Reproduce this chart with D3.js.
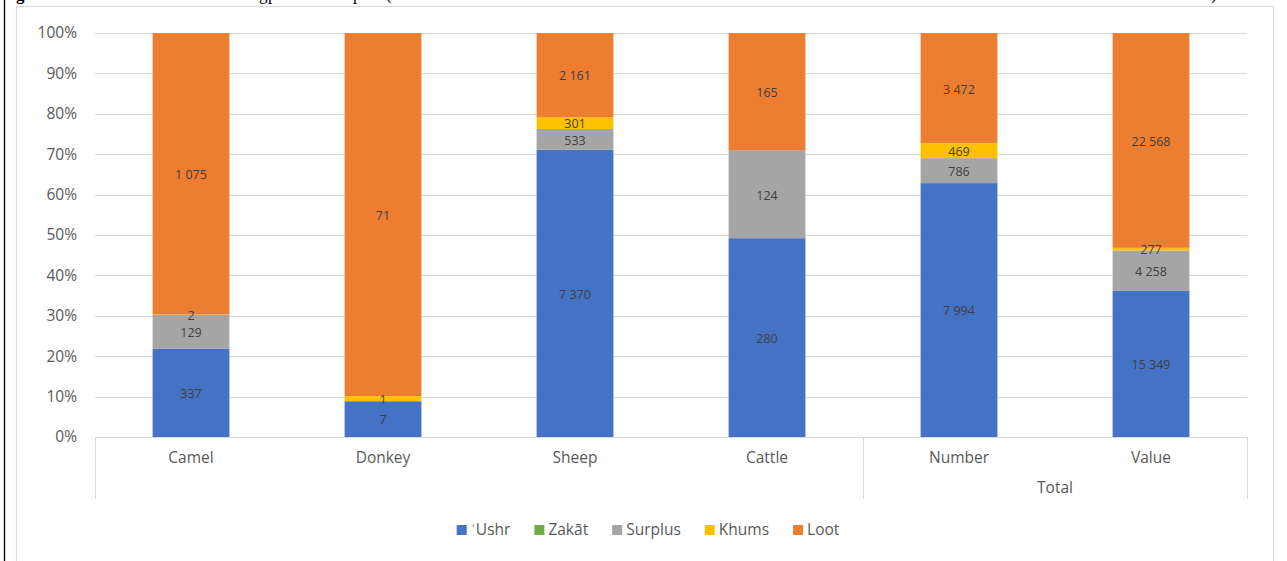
<!DOCTYPE html>
<html><head><meta charset="utf-8">
<script src="https://cdn.jsdelivr.net/npm/d3@7"></script>
<style>
html,body{margin:0;padding:0;background:#fff;}
svg{display:block;}
</style></head>
<body>
<svg id="c" width="1287" height="561"></svg>
<script>
const categories = ["Camel","Donkey","Sheep","Cattle","Number","Value"];
const groups = ["","","","","Total","Total"];
const seriesNames = ["ʿUshr","Zakāt","Surplus","Khums","Loot"];
const ushr    = [337, 7, 7370, 280, 7994, 15349];
const zakat   = [0, 0, 0, 0, 0, 0];
const surplus = [129, 0, 533, 124, 786, 4258];
const khums   = [2, 1, 301, 0, 469, 277];
const loot    = [1075, 71, 2161, 165, 3472, 22568];
const yTicks  = [0,0.1,0.2,0.3,0.4,0.5,0.6,0.7,0.8,0.9,1];
const colors  = ["#4472C4","#70AD47","#A5A5A5","#FFC000","#ED7D31"];

const seriesVals = [ushr, zakat, surplus, khums, loot];
const keys = ["s0","s1","s2","s3","s4"];
const rows = categories.map((c,i)=>{const r={cat:c}; keys.forEach((k,j)=>r[k]=seriesVals[j][i]); return r;});

const svg = d3.select("#c");
const FONT = "'Open Sans', sans-serif";

// page frame
svg.append("line").attr("x1",4.5).attr("x2",4.5).attr("y1",0).attr("y2",561).attr("stroke","#000").attr("stroke-width",1.3);
svg.append("rect").attr("x",16.5).attr("y",6.5).attr("width",1257).attr("height",600)
  .attr("fill","none").attr("stroke","#d9d9d9").attr("stroke-width",1.2);

// cut-off caption line (only descenders visible, as in the reference)
const cap = svg.append("g").attr("font-family","'Liberation Serif', 'Times New Roman', serif").attr("font-size",17).attr("fill","#000");
cap.append("text").attr("x",1).attr("y",0).attr("font-weight","bold").text("Figure");
[[259,"g"],[268,"p"],[353,"p"],[386,"("],[1211,")"]].forEach(d=>cap.append("text").attr("x",d[0]).attr("y",0).text(d[1]));

const x = d3.scaleBand().domain(categories).range([95,1247]).paddingInner(0.6).paddingOuter(0.3);
const y = d3.scaleLinear().domain([0,1]).range([437,33]);

// gridlines
svg.append("g").selectAll("line").data(yTicks.slice(1)).join("line")
  .attr("x1",95).attr("x2",1247).attr("y1",d=>Math.round(y(d))+0.5).attr("y2",d=>Math.round(y(d))+0.5)
  .attr("stroke","#d9d9d9").attr("stroke-width",1);

// y axis labels
const yAxis = d3.axisLeft(y).tickValues(yTicks).tickFormat(d3.format(".0%")).tickSize(0).tickPadding(0);
const ya = svg.append("g").attr("transform","translate(77,0)").call(yAxis);
ya.select(".domain").remove();
ya.selectAll("text").attr("font-family",FONT).attr("font-size",15.5).attr("fill","#595959");

// stacked bars
const stack = d3.stack().keys(keys).offset(d3.stackOffsetExpand);
const stacked = stack(rows);
const fmt = v => d3.format(",")(v).replace(/,/g," ");
stacked.forEach((layer,j)=>{
  const g = svg.append("g");
  g.selectAll("rect").data(layer.filter(d=>d[1]-d[0]>0)).join("rect")
    .attr("x",d=>x(d.data.cat)).attr("width",x.bandwidth())
    .attr("y",d=>y(d[1])).attr("height",d=>y(d[0])-y(d[1]))
    .attr("fill",colors[j]);
});
stacked.forEach((layer,j)=>{
  svg.append("g").selectAll("text").data(layer.filter(d=>d.data[keys[j]]>0)).join("text")
    .attr("x",d=>x(d.data.cat)+x.bandwidth()/2)
    .attr("y",d=>y((d[0]+d[1])/2)+1)
    .attr("dy","0.35em").attr("text-anchor","middle")
    .attr("font-family",FONT).attr("font-size",12.5).attr("fill","#404040")
    .text(d=>fmt(d.data[keys[j]]));
});

// category axis
svg.append("line").attr("x1",95).attr("x2",1247).attr("y1",437.5).attr("y2",437.5).attr("stroke","#d9d9d9");
const step = x.step();
const sepX = [95, 95+4*step, 1247];
svg.append("g").selectAll("line").data(sepX).join("line")
  .attr("x1",d=>Math.round(d)+0.5).attr("x2",d=>Math.round(d)+0.5).attr("y1",437).attr("y2",499)
  .attr("stroke","#d9d9d9");
svg.append("g").selectAll("text").data(categories).join("text")
  .attr("x",d=>x(d)+x.bandwidth()/2).attr("y",463).attr("text-anchor","middle")
  .attr("font-family",FONT).attr("font-size",15.5).attr("fill","#595959").text(d=>d);
const grpNames = Array.from(new Set(groups.filter(g=>g)));
grpNames.forEach(gn=>{
  const idx = categories.filter((c,i)=>groups[i]===gn);
  const cx = (x(idx[0]) + x(idx[idx.length-1]) + x.bandwidth())/2;
  svg.append("text").attr("x",cx).attr("y",493).attr("text-anchor","middle")
    .attr("font-family",FONT).attr("font-size",15.5).attr("fill","#595959").text(gn);
});

// legend
const lg = svg.append("g");
const items = seriesNames.map((n,i)=>{
  const it = lg.append("g");
  it.append("rect").attr("width",10).attr("height",10).attr("y",-5).attr("fill",colors[i]);
  const t = it.append("text").attr("x",14).attr("dy","0.35em").attr("font-family",FONT).attr("font-size",15.5).attr("fill","#595959").text(n);
  return {g:it, w:14+t.node().getComputedTextLength()};
});
const gap = 24;
const total = d3.sum(items,d=>d.w)+gap*(items.length-1);
let cx0 = 648 - total/2;
items.forEach(it=>{it.g.attr("transform",`translate(${cx0},530)`); cx0 += it.w+gap;});
</script>
</body></html>
